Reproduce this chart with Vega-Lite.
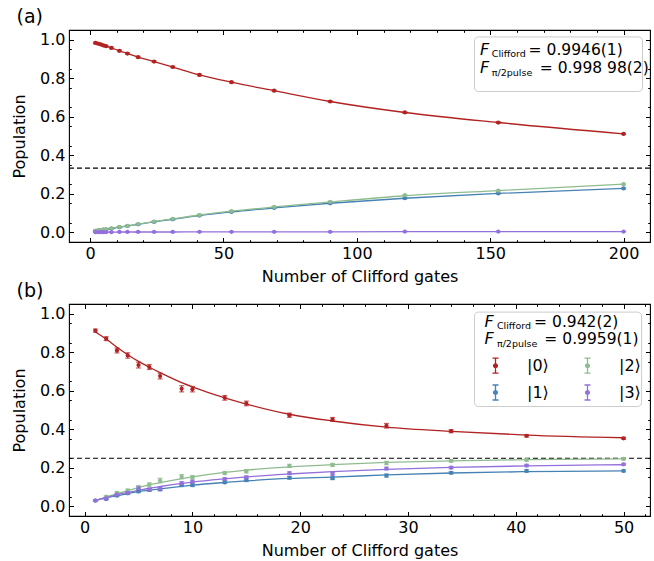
{
  "$schema": "https://vega.github.io/schema/vega-lite/v6.json",
  "padding": {"left": 11, "top": 6, "right": 6, "bottom": 0},
  "bounds": "flush",
  "spacing": 62,
  "resolve": {"scale": {"color": "independent"}, "legend": {"color": "independent"}},
  "config": {
    "font": "DejaVu Sans",
    "view": {"stroke": "black", "strokeWidth": 1.1},
    "axis": {"labelFont": "DejaVu Sans", "labelFontSize": 16, "labelColor": "black", "titleFont": "DejaVu Sans", "titleFontSize": 16, "titleFontWeight": "normal", "titleColor": "black", "grid": false, "domain": false, "tickColor": "black", "tickWidth": 1, "tickSize": -4.5},
    "title": {"font": "DejaVu Sans", "fontSize": 19, "fontWeight": "normal", "color": "black", "anchor": "start", "frame": "bounds", "offset": 3},
    "legend": {"labelFont": "DejaVu Sans"}
  },
  "vconcat": [
    {
      "width": 581,
      "height": 212,
      "title": {"text": "(a)", "dx": 5},
      "data": {"values": [
        {"n": 2, "s": "|0⟩", "p": 0.983, "e": 0.004, "f": 0.983},
        {"n": 3, "s": "|0⟩", "p": 0.979, "e": 0.004, "f": 0.979},
        {"n": 4, "s": "|0⟩", "p": 0.975, "e": 0.004, "f": 0.975},
        {"n": 5, "s": "|0⟩", "p": 0.970, "e": 0.004, "f": 0.970},
        {"n": 6, "s": "|0⟩", "p": 0.966, "e": 0.004, "f": 0.966},
        {"n": 8, "s": "|0⟩", "p": 0.957, "e": 0.004, "f": 0.957},
        {"n": 11, "s": "|0⟩", "p": 0.942, "e": 0.004, "f": 0.942},
        {"n": 14, "s": "|0⟩", "p": 0.928, "e": 0.004, "f": 0.928},
        {"n": 18, "s": "|0⟩", "p": 0.909, "e": 0.004, "f": 0.909},
        {"n": 24, "s": "|0⟩", "p": 0.886, "e": 0.004, "f": 0.886},
        {"n": 31, "s": "|0⟩", "p": 0.858, "e": 0.004, "f": 0.858},
        {"n": 41, "s": "|0⟩", "p": 0.817, "e": 0.005, "f": 0.817},
        {"n": 53, "s": "|0⟩", "p": 0.779, "e": 0.004, "f": 0.779},
        {"n": 69, "s": "|0⟩", "p": 0.735, "e": 0.004, "f": 0.735},
        {"n": 90, "s": "|0⟩", "p": 0.679, "e": 0.004, "f": 0.679},
        {"n": 118, "s": "|0⟩", "p": 0.622, "e": 0.004, "f": 0.622},
        {"n": 153, "s": "|0⟩", "p": 0.570, "e": 0.004, "f": 0.570},
        {"n": 200, "s": "|0⟩", "p": 0.511, "e": 0.003, "f": 0.511},
        {"n": 2, "s": "|1⟩", "p": 0.008, "e": 0.003, "f": 0.008},
        {"n": 3, "s": "|1⟩", "p": 0.010, "e": 0.003, "f": 0.010},
        {"n": 4, "s": "|1⟩", "p": 0.012, "e": 0.003, "f": 0.012},
        {"n": 5, "s": "|1⟩", "p": 0.014, "e": 0.003, "f": 0.014},
        {"n": 6, "s": "|1⟩", "p": 0.016, "e": 0.003, "f": 0.016},
        {"n": 8, "s": "|1⟩", "p": 0.020, "e": 0.003, "f": 0.020},
        {"n": 11, "s": "|1⟩", "p": 0.027, "e": 0.003, "f": 0.027},
        {"n": 14, "s": "|1⟩", "p": 0.033, "e": 0.003, "f": 0.033},
        {"n": 18, "s": "|1⟩", "p": 0.042, "e": 0.003, "f": 0.042},
        {"n": 24, "s": "|1⟩", "p": 0.054, "e": 0.003, "f": 0.054},
        {"n": 31, "s": "|1⟩", "p": 0.068, "e": 0.003, "f": 0.068},
        {"n": 41, "s": "|1⟩", "p": 0.087, "e": 0.003, "f": 0.087},
        {"n": 53, "s": "|1⟩", "p": 0.106, "e": 0.003, "f": 0.106},
        {"n": 69, "s": "|1⟩", "p": 0.127, "e": 0.003, "f": 0.127},
        {"n": 90, "s": "|1⟩", "p": 0.151, "e": 0.003, "f": 0.151},
        {"n": 118, "s": "|1⟩", "p": 0.177, "e": 0.003, "f": 0.177},
        {"n": 153, "s": "|1⟩", "p": 0.202, "e": 0.003, "f": 0.202},
        {"n": 200, "s": "|1⟩", "p": 0.228, "e": 0.003, "f": 0.228},
        {"n": 2, "s": "|2⟩", "p": 0.008, "e": 0.003, "f": 0.008},
        {"n": 3, "s": "|2⟩", "p": 0.010, "e": 0.003, "f": 0.010},
        {"n": 4, "s": "|2⟩", "p": 0.012, "e": 0.003, "f": 0.012},
        {"n": 5, "s": "|2⟩", "p": 0.014, "e": 0.003, "f": 0.014},
        {"n": 6, "s": "|2⟩", "p": 0.016, "e": 0.003, "f": 0.016},
        {"n": 8, "s": "|2⟩", "p": 0.021, "e": 0.003, "f": 0.021},
        {"n": 11, "s": "|2⟩", "p": 0.028, "e": 0.003, "f": 0.028},
        {"n": 14, "s": "|2⟩", "p": 0.034, "e": 0.003, "f": 0.034},
        {"n": 18, "s": "|2⟩", "p": 0.043, "e": 0.003, "f": 0.043},
        {"n": 24, "s": "|2⟩", "p": 0.056, "e": 0.003, "f": 0.056},
        {"n": 31, "s": "|2⟩", "p": 0.070, "e": 0.003, "f": 0.070},
        {"n": 41, "s": "|2⟩", "p": 0.090, "e": 0.004, "f": 0.090},
        {"n": 53, "s": "|2⟩", "p": 0.110, "e": 0.003, "f": 0.110},
        {"n": 69, "s": "|2⟩", "p": 0.132, "e": 0.003, "f": 0.132},
        {"n": 90, "s": "|2⟩", "p": 0.158, "e": 0.004, "f": 0.158},
        {"n": 118, "s": "|2⟩", "p": 0.193, "e": 0.003, "f": 0.190},
        {"n": 153, "s": "|2⟩", "p": 0.216, "e": 0.003, "f": 0.217},
        {"n": 200, "s": "|2⟩", "p": 0.250, "e": 0.003, "f": 0.250},
        {"n": 2, "s": "|3⟩", "p": 0.001, "e": 0.001, "f": 0.001},
        {"n": 3, "s": "|3⟩", "p": 0.001, "e": 0.001, "f": 0.001},
        {"n": 4, "s": "|3⟩", "p": 0.001, "e": 0.001, "f": 0.001},
        {"n": 5, "s": "|3⟩", "p": 0.001, "e": 0.001, "f": 0.001},
        {"n": 6, "s": "|3⟩", "p": 0.001, "e": 0.001, "f": 0.001},
        {"n": 8, "s": "|3⟩", "p": 0.001, "e": 0.001, "f": 0.001},
        {"n": 11, "s": "|3⟩", "p": 0.002, "e": 0.001, "f": 0.002},
        {"n": 14, "s": "|3⟩", "p": 0.002, "e": 0.001, "f": 0.002},
        {"n": 18, "s": "|3⟩", "p": 0.002, "e": 0.001, "f": 0.002},
        {"n": 24, "s": "|3⟩", "p": 0.002, "e": 0.001, "f": 0.002},
        {"n": 31, "s": "|3⟩", "p": 0.002, "e": 0.001, "f": 0.002},
        {"n": 41, "s": "|3⟩", "p": 0.003, "e": 0.001, "f": 0.003},
        {"n": 53, "s": "|3⟩", "p": 0.003, "e": 0.001, "f": 0.003},
        {"n": 69, "s": "|3⟩", "p": 0.003, "e": 0.001, "f": 0.003},
        {"n": 90, "s": "|3⟩", "p": 0.003, "e": 0.001, "f": 0.003},
        {"n": 118, "s": "|3⟩", "p": 0.004, "e": 0.001, "f": 0.004},
        {"n": 153, "s": "|3⟩", "p": 0.004, "e": 0.001, "f": 0.004},
        {"n": 200, "s": "|3⟩", "p": 0.004, "e": 0.001, "f": 0.004}
      ]},
      "resolve": {"axis": {"x": "independent", "y": "independent"}},
      "layer": [
        {
          "data": {"values": [{}]},
          "mark": {"type": "rule", "strokeDash": [5, 3], "color": "black", "strokeWidth": 1.1},
          "encoding": {"y": {"datum": 0.3333, "type": "quantitative", "axis": null}}
        },
        {
          "data": {"values": [{}]},
          "mark": {"type": "point", "opacity": 0},
          "encoding": {
            "x": {"datum": 0, "type": "quantitative", "axis": {"orient": "bottom", "title": null, "labels": false, "tickSize": -2.3, "values": [10,20,30,40,60,70,80,90,110,120,130,140,160,170,180,190]}},
            "y": {"datum": 0, "type": "quantitative", "axis": {"orient": "left", "title": null, "labels": false, "tickSize": -2.3, "values": [0.05,0.15,0.25,0.35,0.45,0.55,0.65,0.75,0.85,0.95]}}
          }
        },
        {
          "data": {"values": [{}]},
          "mark": {"type": "point", "opacity": 0},
          "encoding": {
            "x": {"datum": 0, "type": "quantitative", "axis": {"orient": "top", "title": null, "labels": false, "tickSize": -2.3, "values": [10,20,30,40,60,70,80,90,110,120,130,140,160,170,180,190]}},
            "y": {"datum": 0, "type": "quantitative", "axis": {"orient": "right", "title": null, "labels": false, "tickSize": -2.3, "values": [0.05,0.15,0.25,0.35,0.45,0.55,0.65,0.75,0.85,0.95]}}
          }
        },
        {
          "data": {"values": [{}]},
          "mark": {"type": "rect", "fill": "white", "stroke": "#cccccc", "strokeWidth": 1, "cornerRadius": 4},
          "encoding": {
            "x": {"datum": 144.1, "type": "quantitative", "axis": null},
            "x2": {"datum": 207.1},
            "y": {"datum": 1.014, "type": "quantitative", "axis": null},
            "y2": {"datum": 0.731}
          }
        },
        {
          "mark": {"type": "line", "strokeWidth": 1.3, "interpolate": "monotone"},
          "encoding": {
            "x": {"field": "n", "type": "quantitative", "axis": {"orient": "top", "title": null, "labels": false, "values": [0,50,100,150,200]}},
            "y": {"field": "f", "type": "quantitative", "axis": {"orient": "right", "title": null, "labels": false, "values": [0,0.2,0.4,0.6,0.8,1.0]}},
            "color": {"field": "s", "type": "nominal", "scale": {"domain": ["|0⟩", "|1⟩", "|2⟩", "|3⟩"], "range": ["#b22222", "#4682b4", "#8fbc8f", "#9370db"]}, "legend": null}
          }
        },
        {
          "mark": {"type": "errorbar", "ticks": true, "thickness": 1.2},
          "encoding": {
            "x": {"field": "n", "type": "quantitative", "axis": null},
            "y": {"field": "p", "type": "quantitative", "axis": null},
            "yError": {"field": "e"},
            "color": {"field": "s", "type": "nominal", "legend": null}
          }
        },
        {
          "mark": {"type": "circle", "size": 18, "opacity": 1},
          "encoding": {
            "x": {"field": "n", "type": "quantitative", "scale": {"domain": [-7.9, 209.9], "nice": false, "zero": false}, "axis": {"orient": "bottom", "title": "Number of Clifford gates", "values": [0,50,100,150,200], "labelPadding": 7.5, "titlePadding": 7}},
            "y": {"field": "p", "type": "quantitative", "scale": {"domain": [-0.05, 1.05], "nice": false, "zero": false}, "axis": {"orient": "left", "title": "Population", "values": [0,0.2,0.4,0.6,0.8,1.0], "format": ".1f", "labelPadding": 8.5, "titlePadding": 12}},
            "color": {"field": "s", "type": "nominal", "legend": null}
          }
        },
        {
          "data": {"values": [{}]},
          "mark": {"type": "text", "text": "F", "fontStyle": "italic", "fontSize": 16, "align": "left", "baseline": "alphabetic", "color": "black"},
          "encoding": {"x": {"datum": 146.2, "type": "quantitative", "axis": null}, "y": {"datum": 0.922, "type": "quantitative", "axis": null}}
        },
        {
          "data": {"values": [{}]},
          "mark": {"type": "text", "text": "Clifford", "fontSize": 9.5, "align": "left", "baseline": "alphabetic", "color": "black"},
          "encoding": {"x": {"datum": 150.6, "type": "quantitative", "axis": null}, "y": {"datum": 0.909, "type": "quantitative", "axis": null}}
        },
        {
          "data": {"values": [{}]},
          "mark": {"type": "text", "text": "= 0.9946(1)", "fontSize": 15.5, "align": "left", "baseline": "alphabetic", "color": "black"},
          "encoding": {"x": {"datum": 164.4, "type": "quantitative", "axis": null}, "y": {"datum": 0.922, "type": "quantitative", "axis": null}}
        },
        {
          "data": {"values": [{}]},
          "mark": {"type": "text", "text": "F", "fontStyle": "italic", "fontSize": 16, "align": "left", "baseline": "alphabetic", "color": "black"},
          "encoding": {"x": {"datum": 146.2, "type": "quantitative", "axis": null}, "y": {"datum": 0.825, "type": "quantitative", "axis": null}}
        },
        {
          "data": {"values": [{}]},
          "mark": {"type": "text", "text": "π/2pulse", "fontSize": 9.5, "align": "left", "baseline": "alphabetic", "color": "black"},
          "encoding": {"x": {"datum": 150.6, "type": "quantitative", "axis": null}, "y": {"datum": 0.813, "type": "quantitative", "axis": null}}
        },
        {
          "data": {"values": [{}]},
          "mark": {"type": "text", "text": "= 0.998 98(2)", "fontSize": 15.5, "align": "left", "baseline": "alphabetic", "color": "black"},
          "encoding": {"x": {"datum": 168.6, "type": "quantitative", "axis": null}, "y": {"datum": 0.825, "type": "quantitative", "axis": null}}
        }
      ]
    },
    {
      "width": 581,
      "height": 212,
      "title": {"text": "(b)", "dx": 5},
      "data": {"values": [
        {"n": 1, "s": "|0⟩", "p": 0.912, "e": 0.008, "f": 0.905},
        {"n": 2, "s": "|0⟩", "p": 0.870, "e": 0.010, "f": 0.868},
        {"n": 3, "s": "|0⟩", "p": 0.809, "e": 0.013, "f": 0.826},
        {"n": 4, "s": "|0⟩", "p": 0.783, "e": 0.014, "f": 0.787},
        {"n": 5, "s": "|0⟩", "p": 0.733, "e": 0.015, "f": 0.752},
        {"n": 6, "s": "|0⟩", "p": 0.723, "e": 0.013, "f": 0.722},
        {"n": 7, "s": "|0⟩", "p": 0.676, "e": 0.015, "f": 0.694},
        {"n": 9, "s": "|0⟩", "p": 0.610, "e": 0.016, "f": 0.642},
        {"n": 10, "s": "|0⟩", "p": 0.608, "e": 0.014, "f": 0.620},
        {"n": 13, "s": "|0⟩", "p": 0.563, "e": 0.012, "f": 0.563},
        {"n": 15, "s": "|0⟩", "p": 0.534, "e": 0.012, "f": 0.531},
        {"n": 19, "s": "|0⟩", "p": 0.473, "e": 0.011, "f": 0.478},
        {"n": 23, "s": "|0⟩", "p": 0.451, "e": 0.010, "f": 0.443},
        {"n": 28, "s": "|0⟩", "p": 0.418, "e": 0.012, "f": 0.411},
        {"n": 34, "s": "|0⟩", "p": 0.390, "e": 0.008, "f": 0.389},
        {"n": 41, "s": "|0⟩", "p": 0.366, "e": 0.006, "f": 0.370},
        {"n": 50, "s": "|0⟩", "p": 0.353, "e": 0.005, "f": 0.356},
        {"n": 1, "s": "|1⟩", "p": 0.030, "e": 0.004, "f": 0.030},
        {"n": 2, "s": "|1⟩", "p": 0.038, "e": 0.005, "f": 0.044},
        {"n": 3, "s": "|1⟩", "p": 0.056, "e": 0.006, "f": 0.055},
        {"n": 4, "s": "|1⟩", "p": 0.068, "e": 0.006, "f": 0.066},
        {"n": 5, "s": "|1⟩", "p": 0.078, "e": 0.007, "f": 0.076},
        {"n": 6, "s": "|1⟩", "p": 0.085, "e": 0.007, "f": 0.084},
        {"n": 7, "s": "|1⟩", "p": 0.088, "e": 0.007, "f": 0.091},
        {"n": 9, "s": "|1⟩", "p": 0.110, "e": 0.007, "f": 0.104},
        {"n": 10, "s": "|1⟩", "p": 0.110, "e": 0.007, "f": 0.110},
        {"n": 13, "s": "|1⟩", "p": 0.125, "e": 0.007, "f": 0.124},
        {"n": 15, "s": "|1⟩", "p": 0.136, "e": 0.007, "f": 0.132},
        {"n": 19, "s": "|1⟩", "p": 0.148, "e": 0.007, "f": 0.145},
        {"n": 23, "s": "|1⟩", "p": 0.146, "e": 0.007, "f": 0.152},
        {"n": 28, "s": "|1⟩", "p": 0.160, "e": 0.008, "f": 0.163},
        {"n": 34, "s": "|1⟩", "p": 0.174, "e": 0.006, "f": 0.173},
        {"n": 41, "s": "|1⟩", "p": 0.184, "e": 0.006, "f": 0.180},
        {"n": 50, "s": "|1⟩", "p": 0.184, "e": 0.005, "f": 0.184},
        {"n": 1, "s": "|2⟩", "p": 0.030, "e": 0.004, "f": 0.030},
        {"n": 2, "s": "|2⟩", "p": 0.050, "e": 0.006, "f": 0.048},
        {"n": 3, "s": "|2⟩", "p": 0.070, "e": 0.007, "f": 0.066},
        {"n": 4, "s": "|2⟩", "p": 0.082, "e": 0.008, "f": 0.082},
        {"n": 5, "s": "|2⟩", "p": 0.099, "e": 0.009, "f": 0.097},
        {"n": 6, "s": "|2⟩", "p": 0.113, "e": 0.009, "f": 0.111},
        {"n": 7, "s": "|2⟩", "p": 0.134, "e": 0.012, "f": 0.123},
        {"n": 9, "s": "|2⟩", "p": 0.154, "e": 0.011, "f": 0.144},
        {"n": 10, "s": "|2⟩", "p": 0.151, "e": 0.009, "f": 0.153},
        {"n": 13, "s": "|2⟩", "p": 0.173, "e": 0.008, "f": 0.176},
        {"n": 15, "s": "|2⟩", "p": 0.182, "e": 0.009, "f": 0.188},
        {"n": 19, "s": "|2⟩", "p": 0.210, "e": 0.008, "f": 0.205},
        {"n": 23, "s": "|2⟩", "p": 0.215, "e": 0.008, "f": 0.217},
        {"n": 28, "s": "|2⟩", "p": 0.225, "e": 0.009, "f": 0.228},
        {"n": 34, "s": "|2⟩", "p": 0.236, "e": 0.006, "f": 0.236},
        {"n": 41, "s": "|2⟩", "p": 0.241, "e": 0.006, "f": 0.242},
        {"n": 50, "s": "|2⟩", "p": 0.246, "e": 0.005, "f": 0.246},
        {"n": 1, "s": "|3⟩", "p": 0.030, "e": 0.004, "f": 0.030},
        {"n": 2, "s": "|3⟩", "p": 0.042, "e": 0.005, "f": 0.046},
        {"n": 3, "s": "|3⟩", "p": 0.061, "e": 0.006, "f": 0.060},
        {"n": 4, "s": "|3⟩", "p": 0.070, "e": 0.006, "f": 0.072},
        {"n": 5, "s": "|3⟩", "p": 0.094, "e": 0.008, "f": 0.083},
        {"n": 6, "s": "|3⟩", "p": 0.087, "e": 0.007, "f": 0.094},
        {"n": 7, "s": "|3⟩", "p": 0.092, "e": 0.008, "f": 0.103},
        {"n": 9, "s": "|3⟩", "p": 0.120, "e": 0.008, "f": 0.119},
        {"n": 10, "s": "|3⟩", "p": 0.128, "e": 0.008, "f": 0.126},
        {"n": 13, "s": "|3⟩", "p": 0.142, "e": 0.007, "f": 0.143},
        {"n": 15, "s": "|3⟩", "p": 0.151, "e": 0.007, "f": 0.153},
        {"n": 19, "s": "|3⟩", "p": 0.172, "e": 0.007, "f": 0.168},
        {"n": 23, "s": "|3⟩", "p": 0.168, "e": 0.007, "f": 0.180},
        {"n": 28, "s": "|3⟩", "p": 0.196, "e": 0.007, "f": 0.192},
        {"n": 34, "s": "|3⟩", "p": 0.201, "e": 0.006, "f": 0.202},
        {"n": 41, "s": "|3⟩", "p": 0.212, "e": 0.006, "f": 0.210},
        {"n": 50, "s": "|3⟩", "p": 0.218, "e": 0.005, "f": 0.216}
      ]},
      "resolve": {"axis": {"x": "independent", "y": "independent"}},
      "layer": [
        {
          "data": {"values": [{}]},
          "mark": {"type": "rule", "strokeDash": [5, 3], "color": "black", "strokeWidth": 1.1},
          "encoding": {"y": {"datum": 0.25, "type": "quantitative", "axis": null}}
        },
        {
          "data": {"values": [{}]},
          "mark": {"type": "point", "opacity": 0},
          "encoding": {
            "x": {"datum": 0, "type": "quantitative", "axis": {"orient": "bottom", "title": null, "labels": false, "tickSize": -2.3, "values": [2,4,6,8,12,14,16,18,22,24,26,28,32,34,36,38,42,44,46,48,52]}},
            "y": {"datum": 0, "type": "quantitative", "axis": {"orient": "left", "title": null, "labels": false, "tickSize": -2.3, "values": [0.05,0.15,0.25,0.35,0.45,0.55,0.65,0.75,0.85,0.95]}}
          }
        },
        {
          "data": {"values": [{}]},
          "mark": {"type": "point", "opacity": 0},
          "encoding": {
            "x": {"datum": 0, "type": "quantitative", "axis": {"orient": "top", "title": null, "labels": false, "tickSize": -2.3, "values": [2,4,6,8,12,14,16,18,22,24,26,28,32,34,36,38,42,44,46,48,52]}},
            "y": {"datum": 0, "type": "quantitative", "axis": {"orient": "right", "title": null, "labels": false, "tickSize": -2.3, "values": [0.05,0.15,0.25,0.35,0.45,0.55,0.65,0.75,0.85,0.95]}}
          }
        },
        {
          "data": {"values": [{}]},
          "mark": {"type": "rect", "fill": "white", "stroke": "#cccccc", "strokeWidth": 1, "cornerRadius": 4},
          "encoding": {
            "x": {"datum": 36.17, "type": "quantitative", "axis": null},
            "x2": {"datum": 51.67},
            "y": {"datum": 1.008, "type": "quantitative", "axis": null},
            "y2": {"datum": 0.518}
          }
        },
        {
          "mark": {"type": "line", "strokeWidth": 1.3, "interpolate": "monotone"},
          "encoding": {
            "x": {"field": "n", "type": "quantitative", "axis": {"orient": "top", "title": null, "labels": false, "values": [0,10,20,30,40,50]}},
            "y": {"field": "f", "type": "quantitative", "axis": {"orient": "right", "title": null, "labels": false, "values": [0,0.2,0.4,0.6,0.8,1.0]}},
            "color": {"field": "s", "type": "nominal", "scale": {"domain": ["|0⟩", "|1⟩", "|2⟩", "|3⟩"], "range": ["#b22222", "#4682b4", "#8fbc8f", "#9370db"]}, "legend": {"title": null, "orient": "none", "legendX": 418, "legendY": 53, "columns": 2, "symbolType": "M0,-1L0,1M-0.4,-1L0.4,-1M-0.4,1L0.4,1M0.25,0A0.25,0.25,0,1,1,-0.25,0A0.25,0.25,0,1,1,0.25,0Z", "symbolSize": 225, "symbolStrokeWidth": 1.3, "symbolOpacity": 1, "labelFontSize": 16, "labelColor": "black", "labelOffset": 23, "columnPadding": 30, "rowPadding": 6, "padding": 0, "encode": {"symbols": {"update": {"stroke": {"signal": "datum.value === '|0⟩' ? '#b22222' : datum.value === '|1⟩' ? '#4682b4' : datum.value === '|2⟩' ? '#8fbc8f' : '#9370db'"}, "fill": {"signal": "datum.value === '|0⟩' ? '#b22222' : datum.value === '|1⟩' ? '#4682b4' : datum.value === '|2⟩' ? '#8fbc8f' : '#9370db'"}}}}}}
          }
        },
        {
          "mark": {"type": "errorbar", "ticks": true, "thickness": 1.2},
          "encoding": {
            "x": {"field": "n", "type": "quantitative", "axis": null},
            "y": {"field": "p", "type": "quantitative", "axis": null},
            "yError": {"field": "e"},
            "color": {"field": "s", "type": "nominal"}
          }
        },
        {
          "mark": {"type": "circle", "size": 18, "opacity": 1},
          "encoding": {
            "x": {"field": "n", "type": "quantitative", "scale": {"domain": [-1.45, 52.45], "nice": false, "zero": false}, "axis": {"orient": "bottom", "title": "Number of Clifford gates", "values": [0,10,20,30,40,50], "labelPadding": 7.5, "titlePadding": 7}},
            "y": {"field": "p", "type": "quantitative", "scale": {"domain": [-0.05, 1.05], "nice": false, "zero": false}, "axis": {"orient": "left", "title": "Population", "values": [0,0.2,0.4,0.6,0.8,1.0], "format": ".1f", "labelPadding": 8.5, "titlePadding": 12}},
            "color": {"field": "s", "type": "nominal"}
          }
        },
        {
          "data": {"values": [{}]},
          "mark": {"type": "text", "text": "F", "fontStyle": "italic", "fontSize": 16, "align": "left", "baseline": "alphabetic", "color": "black"},
          "encoding": {"x": {"datum": 37.1, "type": "quantitative", "axis": null}, "y": {"datum": 0.931, "type": "quantitative", "axis": null}}
        },
        {
          "data": {"values": [{}]},
          "mark": {"type": "text", "text": "Clifford", "fontSize": 9.5, "align": "left", "baseline": "alphabetic", "color": "black"},
          "encoding": {"x": {"datum": 38.25, "type": "quantitative", "axis": null}, "y": {"datum": 0.920, "type": "quantitative", "axis": null}}
        },
        {
          "data": {"values": [{}]},
          "mark": {"type": "text", "text": "= 0.942(2)", "fontSize": 15.5, "align": "left", "baseline": "alphabetic", "color": "black"},
          "encoding": {"x": {"datum": 41.7, "type": "quantitative", "axis": null}, "y": {"datum": 0.931, "type": "quantitative", "axis": null}}
        },
        {
          "data": {"values": [{}]},
          "mark": {"type": "text", "text": "F", "fontStyle": "italic", "fontSize": 16, "align": "left", "baseline": "alphabetic", "color": "black"},
          "encoding": {"x": {"datum": 37.1, "type": "quantitative", "axis": null}, "y": {"datum": 0.841, "type": "quantitative", "axis": null}}
        },
        {
          "data": {"values": [{}]},
          "mark": {"type": "text", "text": "π/2pulse", "fontSize": 9.5, "align": "left", "baseline": "alphabetic", "color": "black"},
          "encoding": {"x": {"datum": 38.25, "type": "quantitative", "axis": null}, "y": {"datum": 0.829, "type": "quantitative", "axis": null}}
        },
        {
          "data": {"values": [{}]},
          "mark": {"type": "text", "text": "= 0.9959(1)", "fontSize": 15.5, "align": "left", "baseline": "alphabetic", "color": "black"},
          "encoding": {"x": {"datum": 42.65, "type": "quantitative", "axis": null}, "y": {"datum": 0.841, "type": "quantitative", "axis": null}}
        }
      ]
    }
  ]
}
